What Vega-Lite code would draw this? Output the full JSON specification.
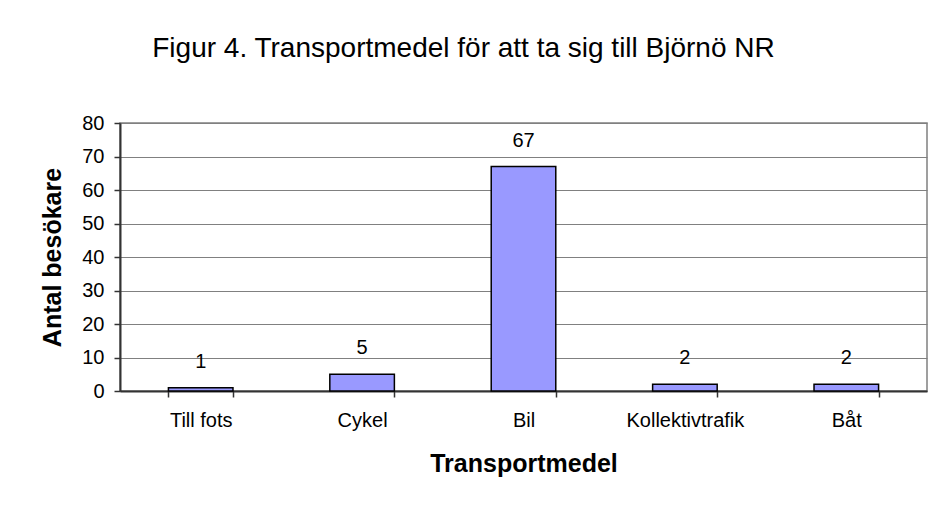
{
  "$schema": "https://vega.github.io/schema/vega-lite/v6.json",
  "width": 807,
  "height": 268,
  "autosize": {"type": "none"},
  "padding": {"left": 120, "top": 123, "right": 9, "bottom": 115},
  "background": "white",
  "config": {
    "font": "Liberation Sans",
    "view": {"stroke": "#808080", "strokeWidth": 1.5}
  },
  "title": {
    "text": "Figur 4. Transportmedel för att ta sig till Björnö NR",
    "fontSize": 28,
    "fontWeight": "normal",
    "color": "black",
    "anchor": "middle",
    "dx": -60,
    "offset": 50
  },
  "data": {
    "values": [
      {"Transportmedel": "Till fots", "Antal": 1},
      {"Transportmedel": "Cykel", "Antal": 5},
      {"Transportmedel": "Bil", "Antal": 67},
      {"Transportmedel": "Kollektivtrafik", "Antal": 2},
      {"Transportmedel": "Båt", "Antal": 2}
    ]
  },
  "encoding": {
    "x": {
      "field": "Transportmedel",
      "type": "nominal",
      "sort": null,
      "scale": {"paddingInner": 0.6, "paddingOuter": 0.3},
      "axis": {
        "title": "Transportmedel",
        "titleFontSize": 25,
        "titleFontWeight": "bold",
        "titleColor": "black",
        "titlePadding": 21,
        "labelAngle": 0,
        "labelFontSize": 20,
        "labelColor": "black",
        "labelPadding": 13,
        "tickBand": "extent",
        "tickSize": 6,
        "tickColor": "#333333",
        "tickWidth": 1.5,
        "domainColor": "#333333",
        "domainWidth": 2,
        "grid": false
      }
    },
    "y": {
      "field": "Antal",
      "type": "quantitative",
      "scale": {"domain": [0, 80], "nice": false},
      "axis": {
        "title": "Antal besökare",
        "titleFontSize": 25,
        "titleFontWeight": "bold",
        "titleColor": "black",
        "titlePadding": 16,
        "values": [0, 10, 20, 30, 40, 50, 60, 70, 80],
        "labelFontSize": 20,
        "labelColor": "black",
        "labelPadding": 10,
        "tickSize": 6,
        "tickColor": "#333333",
        "tickWidth": 1.5,
        "domainColor": "#333333",
        "domainWidth": 2,
        "grid": true,
        "gridColor": "#808080",
        "gridWidth": 1
      }
    }
  },
  "layer": [
    {
      "mark": {"type": "bar", "color": "#9999FF", "stroke": "black", "strokeWidth": 1.5}
    },
    {
      "mark": {"type": "text", "fontSize": 20, "color": "black", "baseline": "alphabetic", "dy": -20},
      "encoding": {"text": {"field": "Antal", "type": "quantitative"}}
    }
  ]
}
